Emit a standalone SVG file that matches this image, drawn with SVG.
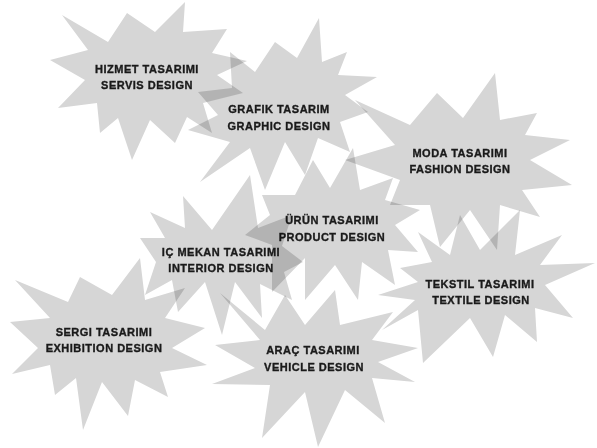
<svg xmlns="http://www.w3.org/2000/svg" width="597" height="448" viewBox="0 0 597 448">
<style>
.star{fill:#d6d6d6;stroke:none;mix-blend-mode:multiply}
.lbl{font-family:"Liberation Sans",Arial,sans-serif;font-weight:bold;font-size:11px;letter-spacing:0.5px;fill:#1a1a1a;stroke:#1a1a1a;stroke-width:0.35px;text-anchor:middle}
</style>
<rect x="0" y="0" width="597" height="448" fill="#ffffff"/>
<g id="hizmet">
<polygon class="star" points="62,15 108,42 127,13 155,32 185,2 183,32 227,29 212,53 247,61 217,75 243,93 203,103 212,133 187,117 175,143 150,120 132,160 118,118 100,133 97,103 58,108 85,80 50,60 88,50"/>
<text class="lbl" x="147" y="73">HIZMET TASARIMI</text>
<text class="lbl" x="147" y="89">SERVIS DESIGN</text>
</g>
<g id="grafik">
<polygon class="star" points="230,52 255,72 275,42 297,58 319,18 322,62 347,52 338,75 377,77 345,95 368,112 340,122 350,152 318,138 305,175 285,142 265,190 250,148 200,182 230,142 188,130 218,115 198,92 232,88"/>
<text class="lbl" x="279" y="113">GRAFIK TASARIM</text>
<text class="lbl" x="279" y="130">GRAPHIC DESIGN</text>
</g>
<g id="moda">
<polygon class="star" points="355,100 410,125 437,93 463,118 495,73 500,120 537,113 525,135 570,140 530,160 572,185 522,190 540,217 500,205 497,250 470,210 440,247 430,205 390,205 400,180 345,160 395,145"/>
<text class="lbl" x="460" y="157">MODA TASARIMI</text>
<text class="lbl" x="460" y="173">FASHION DESIGN</text>
</g>
<g id="urun">
<polygon class="star" points="313,160 330,188 353,148 360,190 393,178 385,200 420,210 395,225 418,252 388,250 395,285 362,262 358,300 335,265 305,300 305,258 272,292 272,245 245,235 270,215 262,195 295,195"/>
<text class="lbl" x="332" y="224">ÜRÜN TASARIMI</text>
<text class="lbl" x="332" y="241">PRODUCT DESIGN</text>
</g>
<g id="icmekan">
<polygon class="star" points="183,196 212,230 250,175 258,228 292,215 282,246 303,262 284,272 292,300 260,284 262,318 235,282 222,335 205,282 178,312 172,280 145,295 156,262 140,238 165,238 150,212 185,228"/>
<text class="lbl" x="221" y="256">IÇ MEKAN TASARIMI</text>
<text class="lbl" x="221" y="272">INTERIOR DESIGN</text>
</g>
<g id="sergi">
<polygon class="star" points="15,280 68,302 80,277 112,295 140,258 145,300 185,288 165,318 205,328 172,348 207,365 160,372 168,397 135,380 128,416 102,382 83,430 76,378 55,395 50,365 12,374 38,348 10,322 50,318"/>
<text class="lbl" x="104" y="336">SERGI TASARIMI</text>
<text class="lbl" x="104" y="352">EXHIBITION DESIGN</text>
</g>
<g id="arac">
<polygon class="star" points="220,293 265,330 285,295 305,325 335,290 340,325 393,312 372,340 418,348 378,362 415,382 372,378 385,423 345,390 318,447 305,392 262,438 270,385 212,384 255,368 215,345 260,340"/>
<text class="lbl" x="313" y="354">ARAÇ TASARIMI</text>
<text class="lbl" x="314" y="371">VEHICLE DESIGN</text>
</g>
<g id="tekstil">
<polygon class="star" points="400,268 432,262 418,232 450,255 460,215 480,250 520,210 515,255 562,235 540,265 595,263 545,285 573,318 535,308 537,342 505,315 493,357 470,318 423,363 418,310 382,330 415,300 378,295 418,282"/>
<text class="lbl" x="480" y="288">TEKSTIL TASARIMI</text>
<text class="lbl" x="481" y="304">TEXTILE DESIGN</text>
</g>
</svg>
